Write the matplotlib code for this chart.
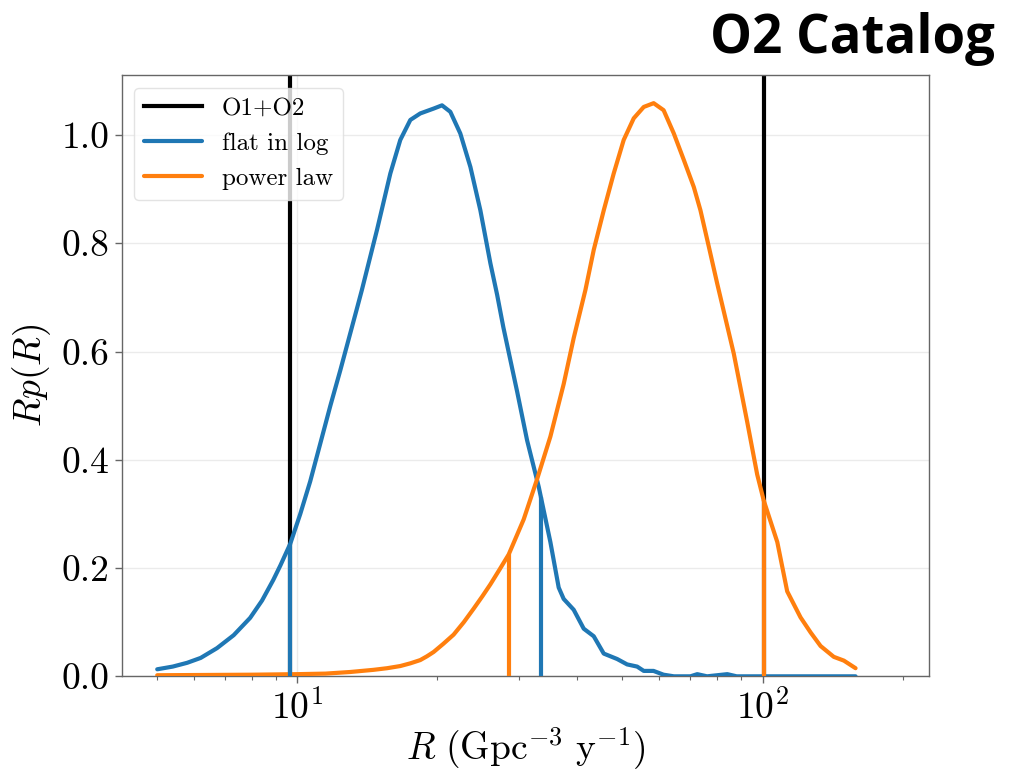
import numpy as np
import matplotlib
matplotlib.use('Agg')
import matplotlib.pyplot as plt

# ---- data ----
flat_R = [5.0, 5.4, 5.8, 6.2, 6.72, 7.3, 7.92, 8.4, 8.88, 9.2, 9.66, 10.15,
          10.66, 11.78, 12.37, 13.44, 13.77, 14.84, 15.85, 16.65, 17.5, 18.38,
          19.64, 20.47, 21.33, 22.41, 23.56, 24.75, 26.01, 26.89, 27.73, 29.69,
          31.19, 33.04, 35.0, 36.47, 37.38, 39.28, 41.28, 43.38, 45.58, 48.7,
          51.17, 53.77, 55.56, 58.31, 61.27, 64.5, 70.0, 72.4, 76.0, 84.0, 88.0,
          158.5]
flat_p = [0.013, 0.018, 0.025, 0.034, 0.052, 0.076, 0.108, 0.14, 0.178, 0.205,
          0.245, 0.30, 0.36, 0.50, 0.565, 0.68, 0.714, 0.825, 0.929, 0.991,
          1.028, 1.040, 1.049, 1.055, 1.043, 1.003, 0.941, 0.861, 0.763, 0.705,
          0.645, 0.526, 0.436, 0.35, 0.248, 0.164, 0.143, 0.123, 0.088, 0.074,
          0.042, 0.032, 0.022, 0.018, 0.010, 0.010, 0.003, 0.0, 0.0, 0.004, 0.0,
          0.004, 0.0, 0.0]

power_R = [5.0, 8.0, 10.0, 11.5, 13.0, 14.59, 15.6, 16.65, 17.5, 18.38, 19.0,
           19.64, 20.6, 21.68, 22.8, 23.94, 25.0, 26.01, 27.2, 28.47, 30.67,
           32.79, 35.0, 37.38, 39.28, 41.63, 43.38, 45.58, 47.88, 50.31, 52.87,
           55.56, 58.35, 61.3, 64.47, 67.75, 71.18, 73.56, 76.66, 79.9, 86.76,
           92.71, 97.4, 100.6, 107.6, 113.0, 120.7, 126.9, 133.3, 142.3, 149.6,
           158.5]
power_p = [0.002, 0.003, 0.004, 0.005, 0.008, 0.012, 0.015, 0.019, 0.024, 0.03,
           0.037, 0.045, 0.06, 0.077, 0.1, 0.125, 0.148, 0.17, 0.197, 0.225,
           0.29, 0.365, 0.443, 0.54, 0.625, 0.714, 0.788, 0.861, 0.929, 0.991,
           1.031, 1.052, 1.059, 1.046, 1.003, 0.954, 0.904, 0.861, 0.794, 0.726,
           0.596, 0.47, 0.373, 0.325, 0.248, 0.157, 0.109, 0.081, 0.056, 0.036,
           0.029, 0.015]

o1o2_bounds = [9.66, 100.6]
flat_bounds = [9.66, 33.4]
power_bounds = [28.5, 100.6]

series_labels = ['O1+O2', 'flat in log', 'power law']
yticks = [0.0, 0.2, 0.4, 0.6, 0.8, 1.0]

# ---- style ----
plt.rcParams['font.family'] = 'cmr10'
plt.rcParams['mathtext.fontset'] = 'cm'
plt.rcParams['axes.unicode_minus'] = False
plt.rcParams['axes.formatter.use_mathtext'] = True

BLUE = '#1f77b4'
ORANGE = '#ff7f0e'
LW = 3.0

fig = plt.figure(figsize=(10.14, 7.71), dpi=100)
ax = fig.add_axes([0.1203, 0.1228, 0.7959, 0.7799])
ax.set_xscale('log')

ax.grid(True, which='major', color='#ebebeb', lw=1.0, zorder=0)
ax.set_axisbelow(True)

for i, b in enumerate(o1o2_bounds):
    ax.axvline(b, color='black', lw=LW, label=series_labels[0] if i == 0 else None, zorder=2)

ax.plot(flat_R, flat_p, color=BLUE, lw=LW, label=series_labels[1], zorder=3,
        solid_joinstyle='round', solid_capstyle='round')
ax.plot(power_R, power_p, color=ORANGE, lw=LW, label=series_labels[2], zorder=3,
        solid_joinstyle='round', solid_capstyle='round')

def height(R, p, b):
    return np.interp(np.log10(b), np.log10(R), p)

for b in flat_bounds:
    ax.vlines(b, 0, height(flat_R, flat_p, b), color=BLUE, lw=LW, zorder=4)
for b in power_bounds:
    ax.vlines(b, 0, height(power_R, power_p, b), color=ORANGE, lw=LW, zorder=4)

ax.set_xlim(4.2, 228)
ax.set_ylim(0, 1.111)
ax.set_yticks(yticks)
ax.set_yticklabels(['%.1f' % v for v in yticks])

for s in ax.spines.values():
    s.set_color('#666666')
    s.set_linewidth(1.0)
ax.tick_params(which='major', direction='out', length=5, width=1, color='#666666',
               labelsize=27, labelcolor='black', pad=4)
ax.tick_params(which='minor', direction='out', length=3, width=0.8, color='#666666')

ax.set_xlabel(r'$R\ (\mathrm{Gpc}^{-3}\ \mathrm{y}^{-1})$', fontsize=27, labelpad=0)
ax.set_ylabel(r'$Rp(R)$', fontsize=27, labelpad=6)

leg = ax.legend(loc='upper left', fontsize=18, framealpha=0.8, handlelength=2.3,
                borderaxespad=0.5)
leg.get_frame().set_edgecolor('#dddddd')

fig.text(0.981, 0.984, 'O2 Catalog', ha='right', va='top', fontsize=38,
         fontweight='bold', family='Open Sans')

fig.savefig('out.png', dpi=100)
